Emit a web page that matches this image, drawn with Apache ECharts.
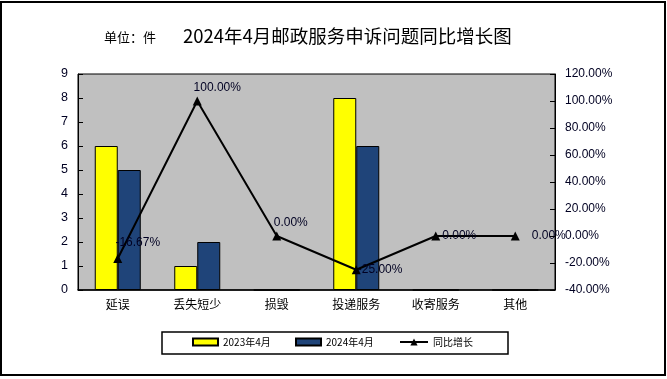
<!DOCTYPE html>
<html>
<head>
<meta charset="utf-8">
<script src="https://cdn.jsdelivr.net/npm/echarts@6/dist/echarts.min.js"></script>
<style>html,body{margin:0;padding:0;background:#fff}#c{width:667px;height:379px}</style>
</head>
<body>
<div id="c"></div>
<script>
var categories = ['延误', '丢失短少', '损毁', '投递服务', '收寄服务', '其他'];
var v2023 = [6, 1, 0, 8, 0, 0];
var v2024 = [5, 2, 0, 6, 0, 0];
var growth = [-16.67, 100, 0, -25, 0, 0];
var leftTicks = {min: 0, max: 9, interval: 1};
var rightTicks = {min: -40, max: 120, interval: 20};
var seriesNames = ['2023年4月', '2024年4月', '同比增长'];

var labelPlacement = [
  {position: 'top', offset: [20, 0]},
  {position: 'top', offset: [20, 2]},
  {position: 'top', offset: [14, 2]},
  {position: 'right', distance: -3},
  {position: 'right', distance: 2},
  {position: 'right', distance: 12}
];

var chart = echarts.init(document.getElementById('c'));
var fontLatin = 'Arial, "Liberation Sans", "Noto Sans CJK SC", sans-serif';
var fontCJK = '"Noto Sans CJK SC", "Liberation Sans", sans-serif';
var legendText = {fontSize: 10, fontFamily: fontCJK, color: '#000'};

chart.setOption({
  animation: false,
  backgroundColor: '#fff',
  graphic: [
    {type: 'rect', shape: {x: 1, y: 2, width: 664, height: 373}, style: {fill: 'none', stroke: '#000', lineWidth: 2}, z: -1},
    {type: 'rect', shape: {x: 162, y: 332, width: 346, height: 22}, style: {fill: '#fff', stroke: '#000', lineWidth: 1.5}, z: -1},
    {type: 'text', left: 104, top: 31, style: {text: '单位：件', font: '13px ' + fontCJK, fill: '#000'}},
    {type: 'text', left: 183, top: 27, style: {text: '2024年4月邮政服务申诉问题同比增长图', font: '18.5px ' + fontCJK, fill: '#000'}}
  ],
  grid: {left: 78, right: 112, top: 74, bottom: 89, show: true, backgroundColor: '#C0C0C0', borderColor: '#000', borderWidth: 1},
  legend: [
    {data: [{name: seriesNames[0], icon: 'rect'}], left: 190, top: 335, padding: 2, itemWidth: 25, itemHeight: 7, textStyle: legendText},
    {data: [{name: seriesNames[1], icon: 'rect'}], left: 293, top: 335, padding: 2, itemWidth: 25, itemHeight: 7, textStyle: legendText},
    {data: [seriesNames[2]], left: 397, top: 335, padding: 2, itemWidth: 28, itemHeight: 9, textStyle: legendText}
  ],
  xAxis: {
    type: 'category', data: categories, boundaryGap: true,
    axisLine: {lineStyle: {color: '#000', width: 1.5}},
    axisTick: {inside: true, length: 5, lineStyle: {color: '#000'}},
    axisLabel: {color: '#000', fontSize: 12, fontFamily: fontCJK, margin: 8}
  },
  yAxis: [
    {type: 'value', min: leftTicks.min, max: leftTicks.max, interval: leftTicks.interval,
     axisLine: {show: true, lineStyle: {color: '#000'}},
     axisTick: {show: true, inside: true, length: 5, lineStyle: {color: '#000'}},
     splitLine: {show: false},
     axisLabel: {color: '#000022', fontSize: 12.5, fontFamily: fontLatin, margin: 10}},
    {type: 'value', min: rightTicks.min, max: rightTicks.max, interval: rightTicks.interval, position: 'right',
     axisLine: {show: true, lineStyle: {color: '#000'}},
     axisTick: {show: true, inside: true, length: 5, lineStyle: {color: '#000'}},
     splitLine: {show: false},
     axisLabel: {color: '#000022', fontSize: 12, fontFamily: fontLatin, margin: 10,
       formatter: function (v) { return v.toFixed(2) + '%'; }}}
  ],
  series: [
    {name: seriesNames[0], type: 'bar', data: v2023, barWidth: 23, barGap: '0%',
     itemStyle: {color: '#FFFF00', borderColor: '#000', borderWidth: 1}},
    {name: seriesNames[1], type: 'bar', data: v2024, barWidth: 23,
     itemStyle: {color: '#1F4479', borderColor: '#000', borderWidth: 1}},
    {name: seriesNames[2], type: 'line', yAxisIndex: 1,
     data: growth.map(function (g, i) {
       return {value: g, label: Object.assign({show: true}, labelPlacement[i])};
     }),
     symbol: 'triangle', symbolSize: 9,
     lineStyle: {color: '#000', width: 2},
     itemStyle: {color: '#000'},
     label: {show: true, color: '#000022', fontSize: 12, fontFamily: fontLatin,
       formatter: function (p) { return p.value.toFixed(2) + '%'; }}}
  ]
});
</script>
</body>
</html>
